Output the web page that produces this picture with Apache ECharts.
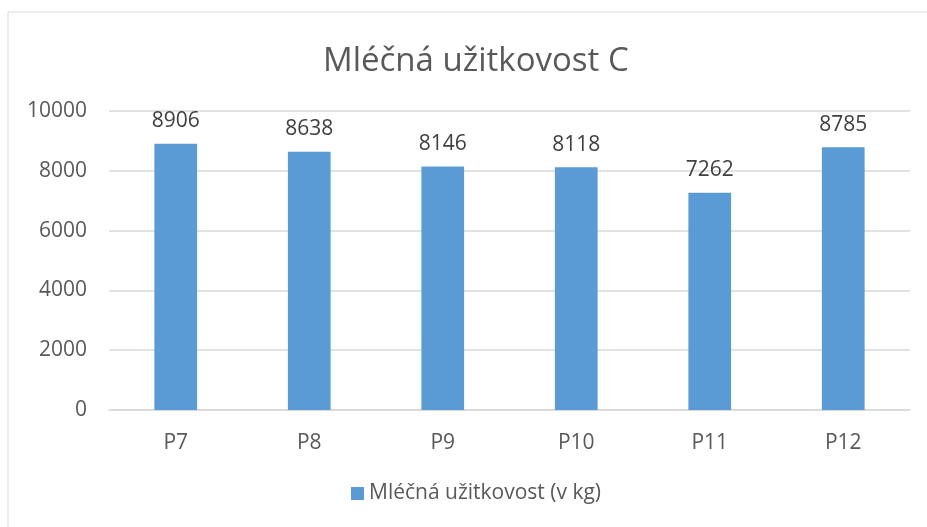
<!DOCTYPE html>
<html>
<head>
<meta charset="utf-8">
<script src="https://cdn.jsdelivr.net/npm/echarts@6/dist/echarts.min.js"></script>
<style>
  html, body { margin: 0; padding: 0; background: #fff; }
  #chart { width: 927px; height: 527px; }
</style>
</head>
<body>
<div id="chart"></div>
<script>
// data
var categories = ['P7', 'P8', 'P9', 'P10', 'P11', 'P12'];
var values = [8906, 8638, 8146, 8118, 7262, 8785];
var seriesName = 'Mléčná užitkovost (v kg)';
var chartTitle = 'Mléčná užitkovost C';

var font = '"Open Sans", "Noto Sans", sans-serif';

var option = {
    backgroundColor: '#fff',
    color: ['#5b9bd5'],
    title: {
        text: chartTitle,
        left: 318,
        top: 40,
        textStyle: { fontFamily: font, fontSize: 33, fontWeight: 'normal', color: '#595959' }
    },
    legend: {
        bottom: 18,
        left: 346,
        itemWidth: 13,
        itemHeight: 13,
        itemGap: 6,
        icon: 'rect',
        data: [seriesName],
        textStyle: { fontFamily: font, fontSize: 21, color: '#595959' }
    },
    grid: { left: 109, right: 17, top: 111, bottom: 117 },
    xAxis: {
        type: 'category',
        data: categories,
        axisLine: { lineStyle: { color: '#d9d9d9', width: 1.5 } },
        axisTick: { show: false },
        axisLabel: { fontFamily: font, fontSize: 21, color: '#595959', margin: 23 }
    },
    yAxis: {
        type: 'value',
        min: 0,
        max: 10000,
        interval: 2000,
        axisLine: { show: false },
        axisTick: { show: false },
        splitLine: { lineStyle: { color: '#d9d9d9', width: 1.5 } },
        axisLabel: {
            fontFamily: font, fontSize: 21, color: '#595959', margin: 22,
            formatter: function (v) { return String(v); }
        }
    },
    graphic: [{
        type: 'rect',
        shape: { x: 8, y: 12, width: 940, height: 540 },
        style: { fill: 'none', stroke: '#d9d9d9', lineWidth: 1 },
        silent: true
    }],
    series: [{
        name: seriesName,
        type: 'bar',
        data: values,
        barWidth: '32%',
        label: {
            show: true,
            position: 'top',
            distance: 12,
            fontFamily: font,
            fontSize: 21,
            color: '#404040'
        }
    }]
};

var myChart = echarts.init(document.getElementById('chart'));
myChart.setOption(option);
</script>
</body>
</html>
